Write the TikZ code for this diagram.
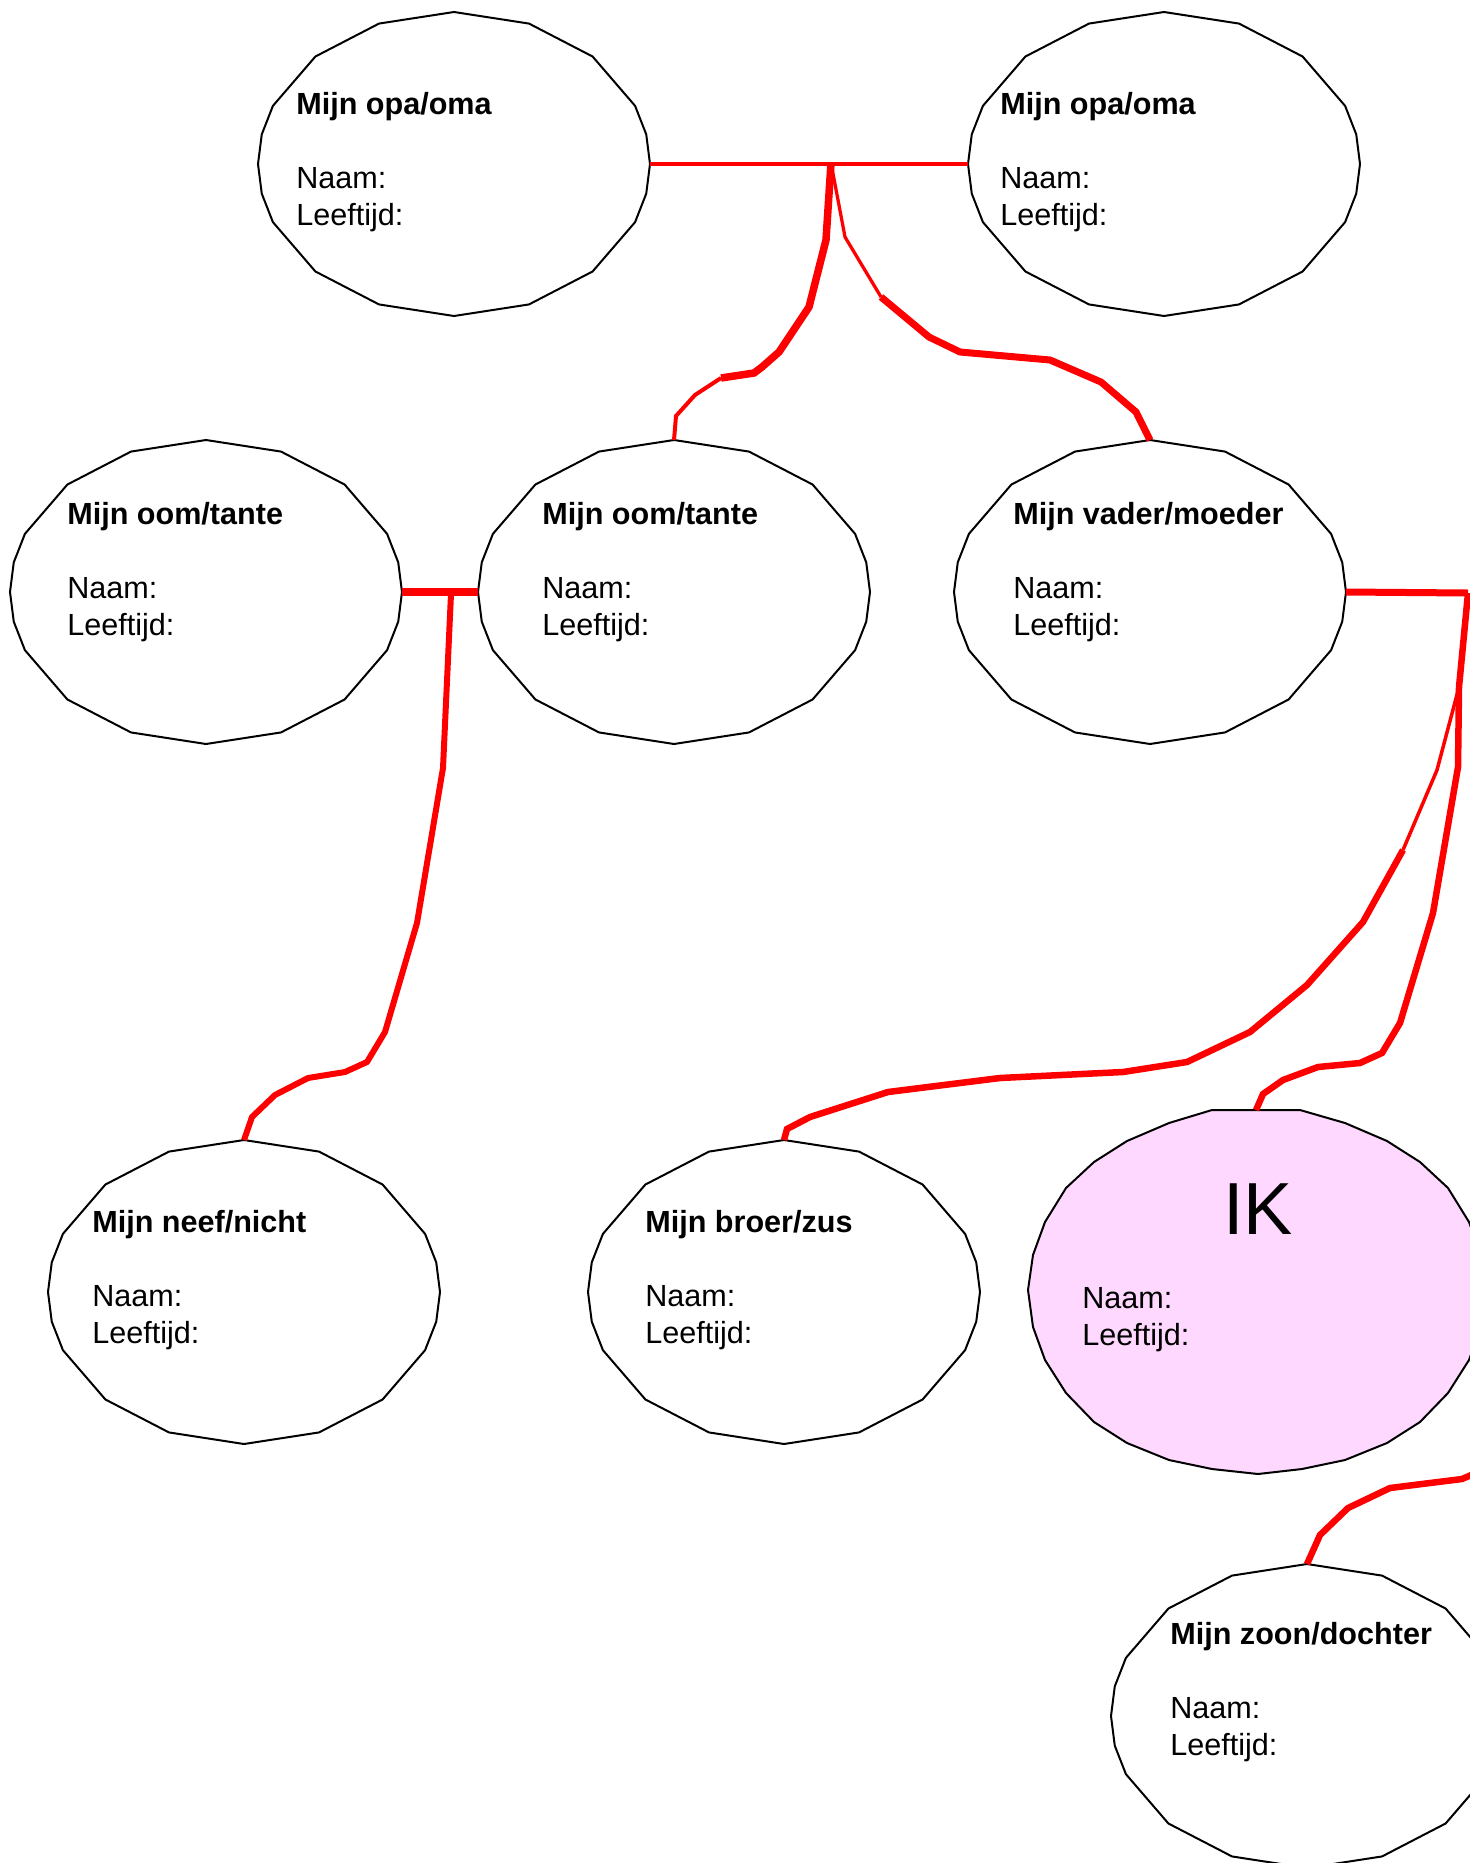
\documentclass[tikz,border=0pt]{standalone}
\usepackage{fontspec}
\setmainfont{Liberation Sans}
\usetikzlibrary{shapes.geometric}
\definecolor{ikroze}{RGB}{254,216,254}

\newcommand{\ovaal}[2]{%
  \node[persoon] (#1) at (#2) {};
  \begin{scope}[shift={(#1.center)}]
    \draw[omtrek] plot[variable=\t, samples at={0,22.5,45,67.5,78.75,90,101.25,112.5,135,157.5,180,202.5,225,247.5,258.75,270,281.25,292.5,315,337.5}] ({196*sin(\t)},{-152*cos(\t)}) -- cycle;
  \end{scope}}
\newcommand{\gegevens}[3]{%
  \node[tekst] (#1-tekst) at (#2) {\textbf{#3}\\[21pt]Naam:\\Leeftijd:};}

\begin{document}
\begin{tikzpicture}[x=0.02cm, y=-0.02cm,
    persoon/.style={ellipse, minimum width=7.84cm, minimum height=6.08cm, inner sep=0pt, outer sep=0pt},
    omtrek/.style={draw=black, line width=0.04cm, fill=white},
    tekst/.style={anchor=base west, inner sep=0pt, align=left, font=\fontsize{17.4}{21}\selectfont},
    tak/.style={draw=red, line width=#1}, tak/.default=0.12cm]
    \fill[white] (0,0) rectangle (1470,1863);
    \useasboundingbox (0,0) rectangle (1470,1863);

    \ovaal{opaL}{454,164}
    \ovaal{opaR}{1164,164}
    \ovaal{omL}{206,592}
    \ovaal{omM}{674,592}
    \ovaal{vader}{1150,592}
    \ovaal{neef}{244,1292}
    \ovaal{broer}{784,1292}
    \ovaal{zoon}{1307,1716}

    \node[persoon, minimum width=9.12cm, minimum height=7.28cm] (ik) at (1256,1292) {};
    \begin{scope}[shift={(ik.center)}]
        \draw[omtrek, fill=ikroze] (-44,-182) -- (-87,-169) -- (-129,-151) -- (-162,-130) -- (-190,-104) -- (-211,-70) -- (-223,-37) -- (-228,-2) -- (-223,35) -- (-211,68) -- (-190,101) -- (-162,130) -- (-129,151) -- (-87,168) -- (-44,177) -- (2,182) -- (46,177) -- (89,168) -- (131,151) -- (164,130) -- (192,101) -- (213,68) -- (225,35) -- (230,-2) -- (225,-37) -- (213,-70) -- (192,-104) -- (164,-130) -- (131,-151) -- (89,-169) -- (44,-182) -- cycle;
    \end{scope}

    \gegevens{opaL}{296,225}{Mijn opa/oma}
    \gegevens{opaR}{1000,225}{Mijn opa/oma}
    \gegevens{omL}{67,635}{Mijn oom/tante}
    \gegevens{omM}{542,635}{Mijn oom/tante}
    \gegevens{vader}{1013,635}{Mijn vader/moeder}
    \gegevens{neef}{92,1343}{Mijn neef/nicht}
    \gegevens{broer}{645,1343}{Mijn broer/zus}
    \gegevens{zoon}{1170,1755}{Mijn zoon/dochter}
    \node[anchor=base west, inner sep=0pt, font=\fontsize{42}{50}\selectfont] (ik-naam) at (1223,1234) {IK};
    \node[tekst] (ik-tekst) at (1082,1345) {Naam:\\Leeftijd:};

    \coordinate (splitsing1) at (831,163);
    \coordinate (splitsing2) at (451,594);
    \coordinate (splitsing3) at (1468,593);
    \coordinate (splitsing4) at (1459,687);
    \coordinate (b1) at (721,378);
    \coordinate (c1) at (881,297);
    \coordinate (d1) at (1403,850);
    \coordinate (rand) at (1478,1472);

    \draw[tak=0.09cm] (opaL.east) -- (opaR.west);
    \draw[tak=0.15cm] (splitsing1) -- (826,240) -- (809,307) -- (779,352) -- (762,367) -- (754,373) -- (b1);
    \draw[tak=0.08cm] (b1) -- (695,395) -- (676,416) -- (omM.north);
    \draw[tak=0.065cm] (splitsing1) -- (845,237) -- (c1);
    \draw[tak=0.14cm] (c1) -- (929,337) -- (960,352) -- (1050,360) -- (1101,382) -- (1136,412) -- (vader.north);

    \draw[tak=0.16cm] (omL.east) -- (omM.west);
    \draw[tak] (splitsing2) -- (443,768) -- (417,923) -- (385,1032) -- (367,1062) -- (345,1072) -- (308,1078) -- (275,1095) -- (252,1117) -- (neef.north);

    \draw[tak=0.14cm] (vader.east) -- (splitsing3);
    \draw[tak=0.13cm] (splitsing3) -- (splitsing4) -- (1458,767) -- (1433,913) -- (1400,1023) -- (1382,1053) -- (1360,1063) -- (1318,1067) -- (1283,1080) -- (1263,1094) -- (ik.north);
    \draw[tak=0.07cm] (splitsing4) -- (1437,770) -- (d1);
    \draw[tak=0.13cm] (d1) -- (1363,922) -- (1307,985) -- (1250,1032) -- (1187,1062) -- (1123,1072) -- (1000,1078) -- (888,1092) -- (810,1117) -- (787,1129) -- (broer.north);

    \draw[tak=0.13cm] (rand) -- (1462,1479) -- (1390,1488) -- (1348,1508) -- (1320,1535) -- (zoon.north);
\end{tikzpicture}
\end{document}
